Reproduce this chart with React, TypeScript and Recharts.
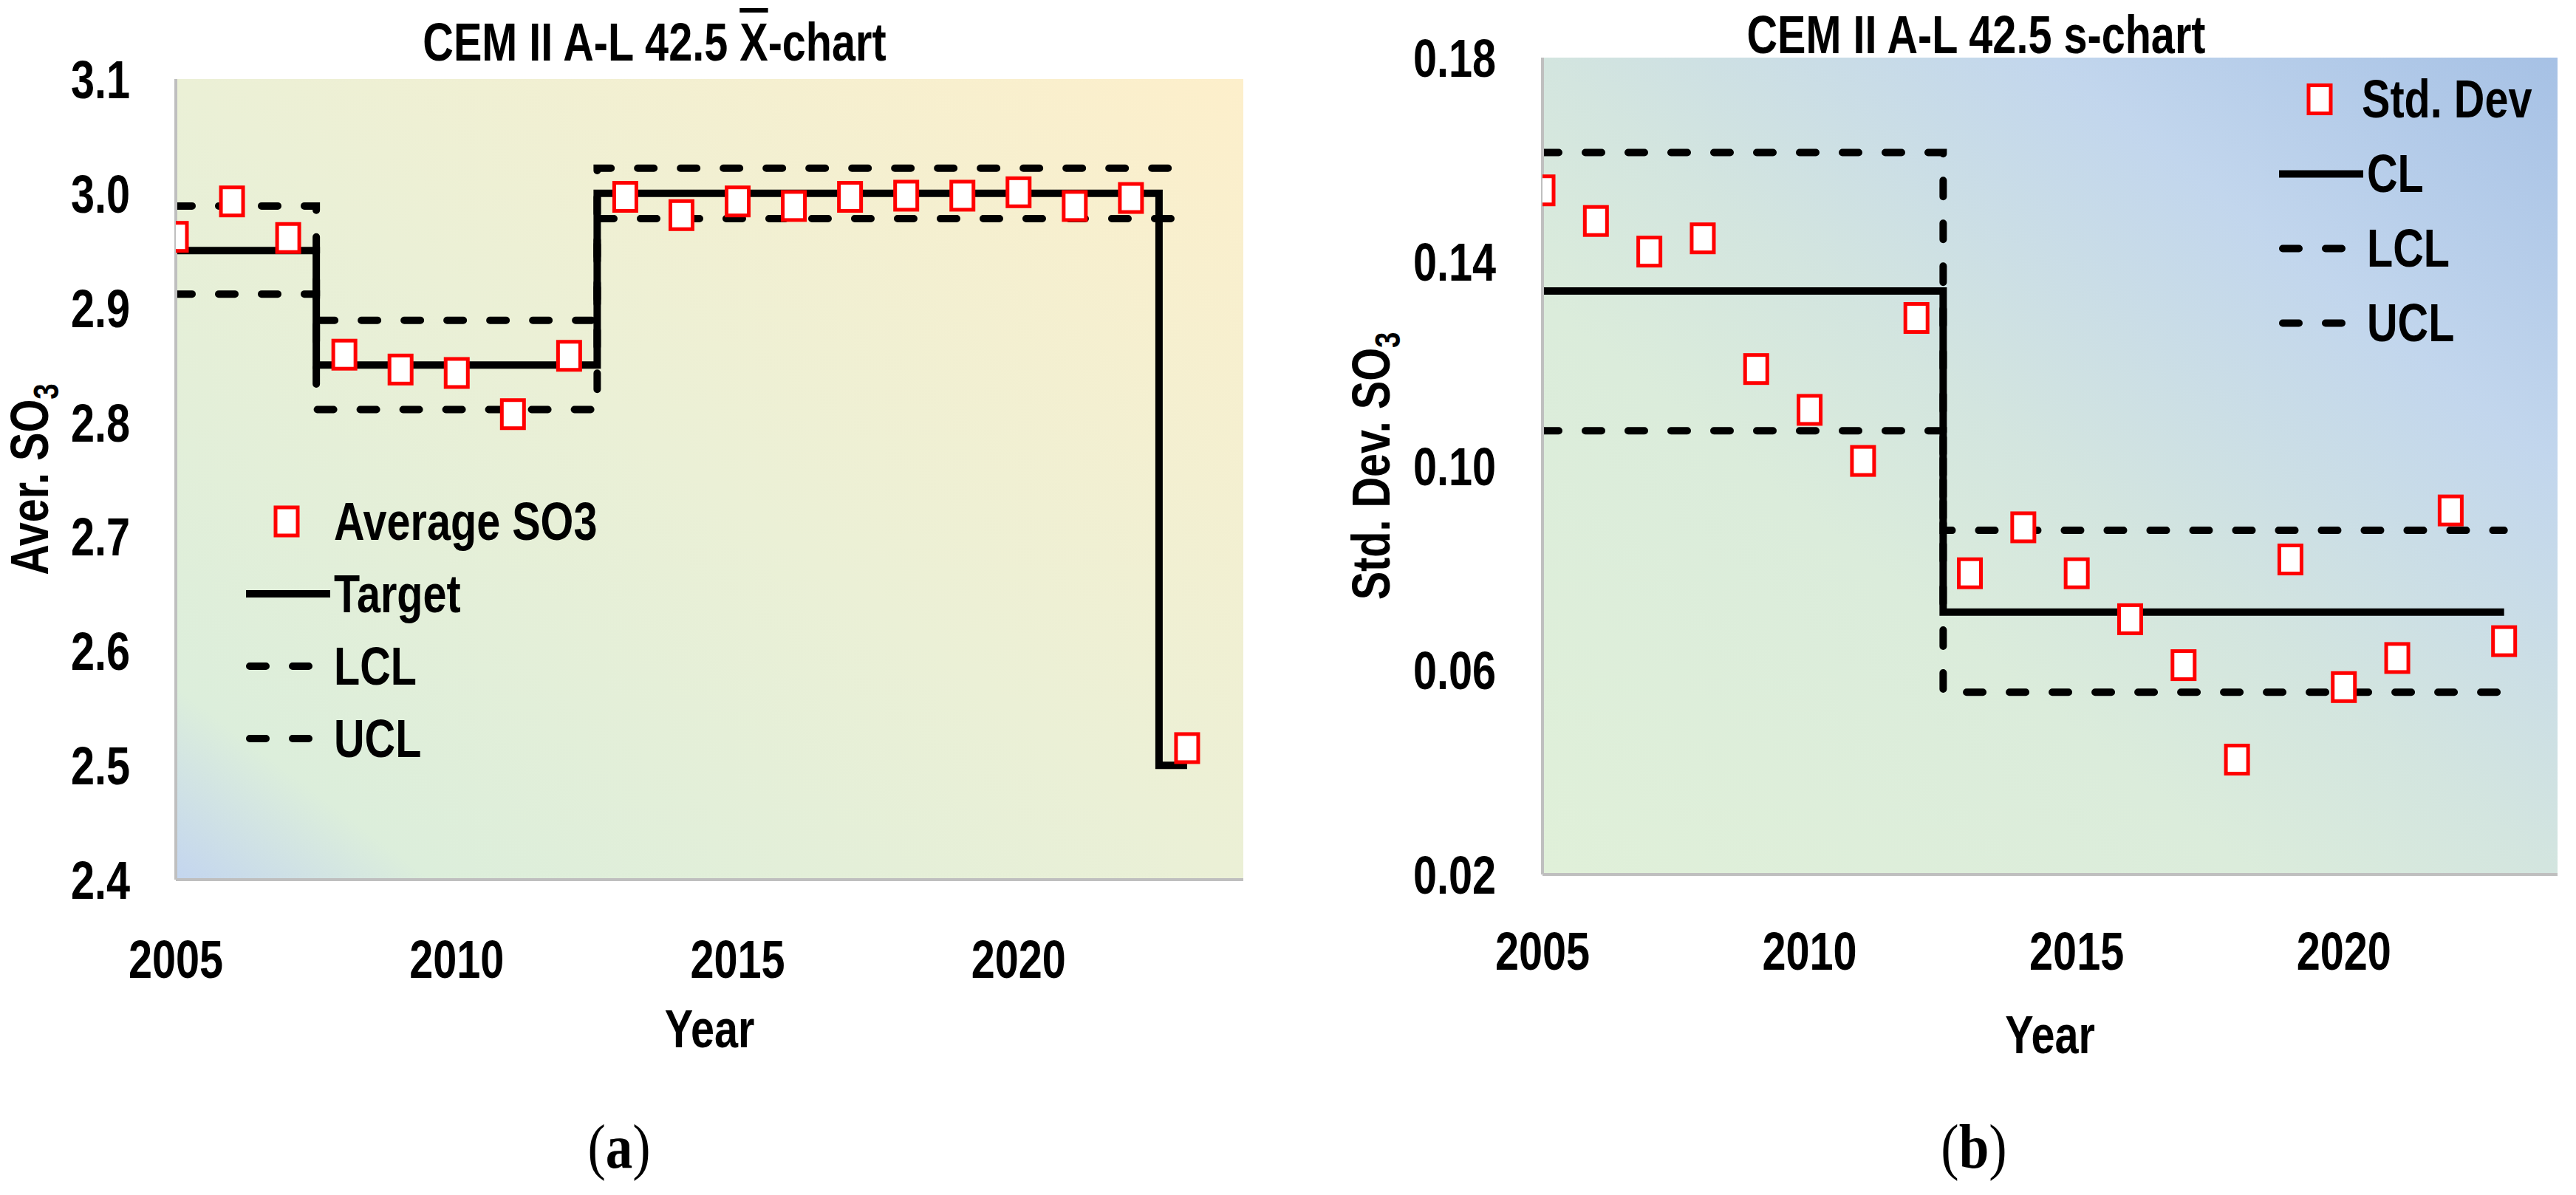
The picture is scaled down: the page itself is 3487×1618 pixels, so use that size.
import React from "react"
import { ComposedChart, Line, Scatter, XAxis, YAxis, CartesianGrid, Legend } from "recharts"

// years of the control charts
const years = [2005, 2006, 2007, 2008, 2009, 2010, 2011, 2012, 2013, 2014, 2015, 2016, 2017, 2018, 2019, 2020, 2021, 2022, 2023]

// (a) X-bar chart
const averageSO3 = [2.962, 2.993, 2.961, 2.859, 2.846, 2.843, 2.807, 2.858, 2.997, 2.981, 2.993, 2.989, 2.997, 2.998, 2.998, 3.001, 2.989, 2.996, 2.515]
const targetYears = [2005, 2007.5, 2007.5, 2012.5, 2012.5, 2022.5, 2022.5, 2023]
const targetA = [2.95, 2.95, 2.85, 2.85, 3.0, 3.0, 2.5, 2.5]
const limitYearsA = [2005, 2007.5, 2007.5, 2012.5, 2012.5, 2023]
const lclA = [2.912, 2.912, 2.811, 2.811, 2.978, 2.978]
const uclA = [2.989, 2.989, 2.889, 2.889, 3.022, 3.022]
const ticksA = [2.4, 2.5, 2.6, 2.7, 2.8, 2.9, 3.0, 3.1]
const legendOrderA = ["Average SO3", "Target", "LCL", "UCL"]

// (b) s chart
const stdDevSO3 = [0.154, 0.148, 0.142, 0.1446, 0.119, 0.111, 0.101, 0.129, 0.079, 0.088, 0.079, 0.07, 0.061, 0.0425, 0.0817, 0.0567, 0.0624, 0.0913, 0.0657]
const limitYearsB = [2005, 2012.5, 2012.5, 2023]
const clB = [0.1343, 0.1343, 0.0714, 0.0714]
const lclB = [0.1069, 0.1069, 0.0557, 0.0557]
const uclB = [0.1614, 0.1614, 0.0874, 0.0874]
const ticksB = [0.02, 0.06, 0.1, 0.14, 0.18]
const legendOrderB = ["Std. Dev", "CL", "LCL", "UCL"]

const yearTicks = [2005, 2010, 2015, 2020]

const FONT = "'Liberation Sans', Arial, sans-serif"
const FS = 72
const SQUEEZE = 0.8 // the original lettering is condensed (Calibri-like)
const DASH = "22 36"

const pairs = (xs: number[], ys: number[]) => xs.map((x, i) => ({ year: x, value: ys[i] }))

const SquareMarker = (props: any) => {
  const { cx, cy } = props
  if (cx == null || cy == null) return null
  return <rect x={cx - 15} y={cy - 19} width={30} height={38} fill="#ffffff" stroke="#ff0000" strokeWidth={5} />
}

// condensed svg text, squeezed around its anchor point
const NarrowText = ({ x, y, anchor, dy, rotate, children }: any) => (
  <text
    transform={`translate(${x},${y})${rotate ? ` rotate(${rotate})` : ""} scale(${SQUEEZE},1)`}
    textAnchor={anchor} dy={dy} fontSize={FS} fontWeight={700} fontFamily={FONT} fill="#000"
  >
    {children}
  </text>
)

const xTick = (props: any) => (
  <NarrowText x={props.x} y={props.y} anchor="middle" dy="0.71em">{props.payload.value}</NarrowText>
)

const yTick = (digits: number) => (props: any) => (
  <NarrowText x={props.x} y={props.y} anchor="end" dy="0.36em">{Number(props.payload.value).toFixed(digits)}</NarrowText>
)

const makeLegend = (rowHeight: number, order: string[]) => (props: any) => {
  const items = [...(props.payload ?? [])].sort((a: any, b: any) => order.indexOf(a.value) - order.indexOf(b.value))
  return (
    <div>
      {items.map((entry: any) => {
        const dashed = entry.payload?.strokeDasharray || entry.type === "plainline"
        return (
          <div key={entry.value} style={{ display: "flex", alignItems: "center", height: rowHeight }}>
            <svg width={119} height={rowHeight}>
              {entry.type === "square" ? (
                <rect x={40} y={rowHeight / 2 - 19} width={30} height={38} fill="#fff" stroke="#ff0000" strokeWidth={5} />
              ) : dashed ? (
                <line x1={5} x2={95} y1={rowHeight / 2} y2={rowHeight / 2} stroke="#000" strokeWidth={10} strokeDasharray={DASH} strokeLinecap="round" />
              ) : (
                <line x1={0} x2={114} y1={rowHeight / 2} y2={rowHeight / 2} stroke="#000" strokeWidth={10} />
              )}
            </svg>
            <span style={{
              display: "inline-block", fontFamily: FONT, fontWeight: 700, fontSize: FS, lineHeight: `${rowHeight}px`,
              color: "#000", whiteSpace: "nowrap", transform: `scaleX(${SQUEEZE})`, transformOrigin: "left center",
            }}>
              {entry.value}
            </span>
          </div>
        )
      })}
    </div>
  )
}

const yLabel = (text: string, x: number, fallbackCy: number) => (props: any) => {
  const vb = props.viewBox
  const cy = vb && vb.height ? vb.y + vb.height / 2 : fallbackCy
  return (
    <NarrowText x={x} y={cy} rotate={-90} anchor="middle" dy="0.36em">
      {text}
      <tspan fontSize={48} dy={14}>3</tspan>
    </NarrowText>
  )
}

const xLabel = (baseline: number, fallbackCx: number) => (props: any) => {
  const vb = props.viewBox
  const cx = vb && vb.width ? vb.x + vb.width / 2 : fallbackCx
  return <NarrowText x={cx} y={baseline} anchor="middle">Year</NarrowText>
}

const titleStyle = (cx: number, top: number): React.CSSProperties => ({
  position: "absolute", left: cx - 600, width: 1200, top, height: 80, lineHeight: "80px",
  textAlign: "center", fontFamily: FONT, fontWeight: 700, fontSize: FS, color: "#000", whiteSpace: "nowrap",
  transform: `scaleX(${SQUEEZE})`,
})

const panelStyle = (cx: number): React.CSSProperties => ({
  position: "absolute", left: cx - 100, width: 200, top: 1503, height: 100, lineHeight: "100px",
  textAlign: "center", fontFamily: "'Liberation Serif', 'Times New Roman', serif", fontSize: 84, color: "#000",
  transform: "scaleX(0.87)",
})

function XBarChart() {
  return (
    <ComposedChart width={1750} height={1618} margin={{ top: 107, right: 67, bottom: 227, left: 0 }}>
      <defs>
        <linearGradient id="bgA" x1="0" y1="1" x2="1" y2="0">
          <stop offset="0" stopColor="#c3d5ef" />
          <stop offset="0.12" stopColor="#dceedb" />
          <stop offset="0.5" stopColor="#ebf0d6" />
          <stop offset="1" stopColor="#fdefcb" />
        </linearGradient>
      </defs>
      <CartesianGrid horizontal={false} vertical={false} fill="url(#bgA)" />
      <XAxis type="number" dataKey="year" domain={[2005, 2024]} ticks={yearTicks} allowDataOverflow
        height={200} tickLine={false} tickSize={0} tickMargin={82} tick={xTick}
        axisLine={{ stroke: "#bfbfbf", strokeWidth: 4 }} label={{ content: xLabel(1418, 960) }} />
      <YAxis type="number" dataKey="value" domain={[2.4, 3.1]} ticks={ticksA} allowDataOverflow
        width={238} tickLine={false} tickSize={0} tickMargin={62} tick={yTick(1)}
        axisLine={{ stroke: "#bfbfbf", strokeWidth: 4 }} label={{ content: yLabel("Aver. SO", 39, 649) }} />
      <Line data={pairs(targetYears, targetA)} dataKey="value" name="Target" type="linear" stroke="#000"
        strokeWidth={10} dot={false} legendType="line" isAnimationActive={false} />
      <Line data={pairs(limitYearsA, lclA)} dataKey="value" name="LCL" type="linear" stroke="#000"
        strokeWidth={10} strokeDasharray={DASH} strokeLinecap="round" dot={false} legendType="plainline" isAnimationActive={false} />
      <Line data={pairs(limitYearsA, uclA)} dataKey="value" name="UCL" type="linear" stroke="#000"
        strokeWidth={10} strokeDasharray={DASH} strokeLinecap="round" dot={false} legendType="plainline" isAnimationActive={false} />
      <Scatter data={pairs(years, averageSO3)} dataKey="value" name="Average SO3" shape={SquareMarker}
        legendType="square" fill="#ff0000" isAnimationActive={false} />
      <Legend layout="vertical" align="center" verticalAlign="middle" content={makeLegend(98, legendOrderA)}
        wrapperStyle={{ left: 333, top: 657, width: 600 }} />
    </ComposedChart>
  )
}

function SChart() {
  return (
    <ComposedChart width={1737} height={1618} margin={{ top: 78, right: 25, bottom: 234, left: 0 }}>
      <defs>
        <linearGradient id="bgB" x1="0" y1="1" x2="1" y2="0">
          <stop offset="0" stopColor="#e0f0d9" />
          <stop offset="0.35" stopColor="#dbecdb" />
          <stop offset="0.5" stopColor="#d3e5df" />
          <stop offset="0.75" stopColor="#c2d6ed" />
          <stop offset="1" stopColor="#a6c1e5" />
        </linearGradient>
      </defs>
      <CartesianGrid horizontal={false} vertical={false} fill="url(#bgB)" />
      <XAxis type="number" dataKey="year" domain={[2005, 2024]} ticks={yearTicks} allowDataOverflow
        height={200} tickLine={false} tickSize={0} tickMargin={78} tick={xTick}
        axisLine={{ stroke: "#bfbfbf", strokeWidth: 4 }} label={{ content: xLabel(1426, 1025) }} />
      <YAxis type="number" dataKey="value" domain={[0.02, 0.18]} ticks={ticksB} allowDataOverflow
        width={338} tickLine={false} tickSize={0} tickMargin={63} tick={yTick(2)}
        axisLine={{ stroke: "#bfbfbf", strokeWidth: 4 }} label={{ content: yLabel("Std. Dev. SO", 105, 631) }} />
      <Line data={pairs(limitYearsB, clB)} dataKey="value" name="CL" type="linear" stroke="#000"
        strokeWidth={10} dot={false} legendType="line" isAnimationActive={false} />
      <Line data={pairs(limitYearsB, lclB)} dataKey="value" name="LCL" type="linear" stroke="#000"
        strokeWidth={10} strokeDasharray={DASH} strokeLinecap="round" dot={false} legendType="plainline" isAnimationActive={false} />
      <Line data={pairs(limitYearsB, uclB)} dataKey="value" name="UCL" type="linear" stroke="#000"
        strokeWidth={10} strokeDasharray={DASH} strokeLinecap="round" dot={false} legendType="plainline" isAnimationActive={false} />
      <Scatter data={pairs(years, stdDevSO3)} dataKey="value" name="Std. Dev" shape={SquareMarker}
        legendType="square" fill="#ff0000" isAnimationActive={false} />
      <Legend layout="vertical" align="center" verticalAlign="middle" content={makeLegend(101, legendOrderB)}
        wrapperStyle={{ left: 1335, top: 84, width: 400 }} />
    </ComposedChart>
  )
}

export default function App() {
  return (
    <div style={{ position: "absolute", left: 0, top: 0, width: 3487, height: 1618, background: "#fff", overflow: "hidden" }}>
      <div style={{ position: "absolute", left: 0, top: 0 }}>
        <XBarChart />
      </div>
      <div style={{ position: "absolute", left: 1750, top: 0 }}>
        <SChart />
      </div>
      <div style={titleStyle(886, 17)}>
        CEM II A-L 42.5 <span style={{ textDecoration: "overline", textDecorationThickness: "6px" }}>X</span>-chart
      </div>
      <div style={titleStyle(2675, 7)}>CEM II A-L 42.5 s-chart</div>
      <div style={panelStyle(838)}>(<b>a</b>)</div>
      <div style={panelStyle(2672)}>(<b>b</b>)</div>
    </div>
  )
}
